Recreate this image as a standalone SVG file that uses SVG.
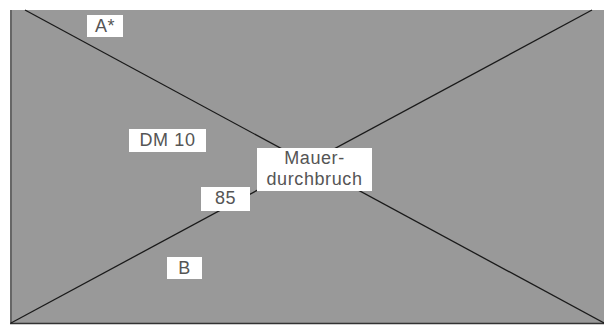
<svg xmlns="http://www.w3.org/2000/svg" width="604" height="330" viewBox="0 0 604 330">
<style>
.lbl{fill:#fff}
.t{font-family:"Liberation Sans",Arial,sans-serif;font-size:18px;fill:#555;text-anchor:middle;letter-spacing:0.6px}
.ln{stroke:#1a1a1a;stroke-width:1.3;fill:none}
</style>
<rect x="0" y="0" width="604" height="330" fill="#fff"/>
<g id="wall">
<rect x="10" y="10" width="594" height="314" fill="#999"/>
<line x1="11" y1="10" x2="11" y2="324" stroke="#666" stroke-width="2"/>
<line x1="10" y1="323.5" x2="604" y2="323.5" stroke="#333" stroke-width="1.5"/>
</g>
<g id="connectors">
<line class="ln" x1="25" y1="10" x2="604" y2="323"/>
<line class="ln" x1="11" y1="323" x2="592" y2="10"/>
</g>
<g id="a">
<rect class="lbl" x="87" y="15" width="36" height="22"/>
<text class="t" x="105" y="32">A*</text>
</g>
<g id="dm10">
<rect class="lbl" x="129" y="129" width="77" height="23"/>
<text class="t" x="167.5" y="146">DM 10</text>
</g>
<g id="mauer">
<rect class="lbl" x="257" y="148" width="115" height="43"/>
<text class="t" x="314.5" y="164">Mauer-</text>
<text class="t" x="314.5" y="185">durchbruch</text>
</g>
<g id="n85">
<rect class="lbl" x="201" y="187" width="49" height="24"/>
<text class="t" x="225.5" y="204">85</text>
</g>
<g id="b">
<rect class="lbl" x="167" y="257" width="35" height="22"/>
<text class="t" x="184.5" y="274">B</text>
</g>
</svg>
